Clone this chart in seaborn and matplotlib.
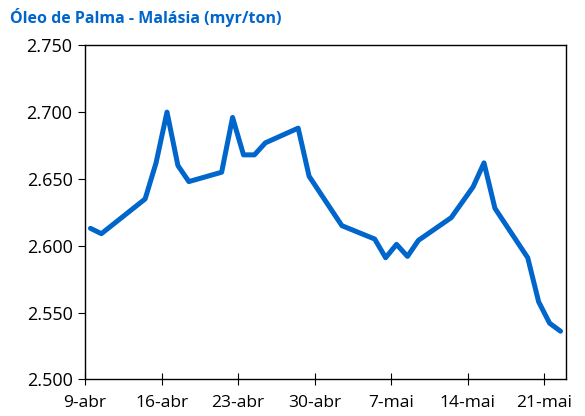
import matplotlib
matplotlib.use("Agg")
import matplotlib.pyplot as plt
import seaborn as sns
import pandas as pd

dates = ["2014-04-09", "2014-04-10", "2014-04-14", "2014-04-15", "2014-04-16",
         "2014-04-17", "2014-04-18", "2014-04-21", "2014-04-22", "2014-04-23",
         "2014-04-24", "2014-04-25", "2014-04-28", "2014-04-29", "2014-05-02",
         "2014-05-05", "2014-05-06", "2014-05-07", "2014-05-08", "2014-05-09",
         "2014-05-12", "2014-05-14", "2014-05-15", "2014-05-16", "2014-05-19",
         "2014-05-20", "2014-05-21", "2014-05-22"]
prices = [2613, 2609, 2635, 2662, 2700, 2660, 2648, 2655, 2696, 2668,
          2668, 2677, 2688, 2652, 2615, 2605, 2591, 2601, 2592, 2604,
          2621, 2644, 2662, 2628, 2591, 2558, 2542, 2536]

tick_dates = ["2014-04-09", "2014-04-16", "2014-04-23", "2014-04-30",
              "2014-05-07", "2014-05-14", "2014-05-21"]
tick_labels = ["9-abr", "16-abr", "23-abr", "30-abr", "7-mai", "14-mai", "21-mai"]
y_ticks = [2500, 2550, 2600, 2650, 2700, 2750]
y_labels = ["2.500", "2.550", "2.600", "2.650", "2.700", "2.750"]
title = "Óleo de Palma - Malásia (myr/ton)"

sns.set_style("white")
plt.rcParams["font.family"] = ["Open Sans", "DejaVu Sans"]

df = pd.DataFrame({"date": pd.to_datetime(dates) + pd.Timedelta(hours=12),
                   "price": prices})

fig = plt.figure(figsize=(5.85, 4.16), dpi=100)
ax = fig.add_axes([0.1453, 0.0882, 0.8222, 0.8029])
sns.lineplot(data=df, x="date", y="price", ax=ax, color="#0066CC",
             linewidth=3.6, solid_joinstyle="round")

ax.set_xlim(pd.Timestamp("2014-04-09"), pd.Timestamp("2014-05-23"))
ax.set_ylim(2500, 2750)
ax.set_xticks(pd.to_datetime(tick_dates))
ax.set_xticklabels(tick_labels)
ax.set_yticks(y_ticks)
ax.set_yticklabels(y_labels)
ax.set_xlabel("")
ax.set_ylabel("")

for s in ax.spines.values():
    s.set_visible(True)
    s.set_color("black")
    s.set_linewidth(1.0)

ax.tick_params(axis="x", direction="inout", length=9, width=0.8,
               labelsize=12.5, colors="black", pad=7, bottom=True)
ax.tick_params(axis="y", direction="out", length=5, width=0.8,
               labelsize=13, colors="black", pad=4, left=True)

fig.text(0.017, 0.957, title, color="#0066CC", fontsize=11.5,
         fontweight="bold", ha="left", va="center")

fig.savefig("out.png", dpi=100)
